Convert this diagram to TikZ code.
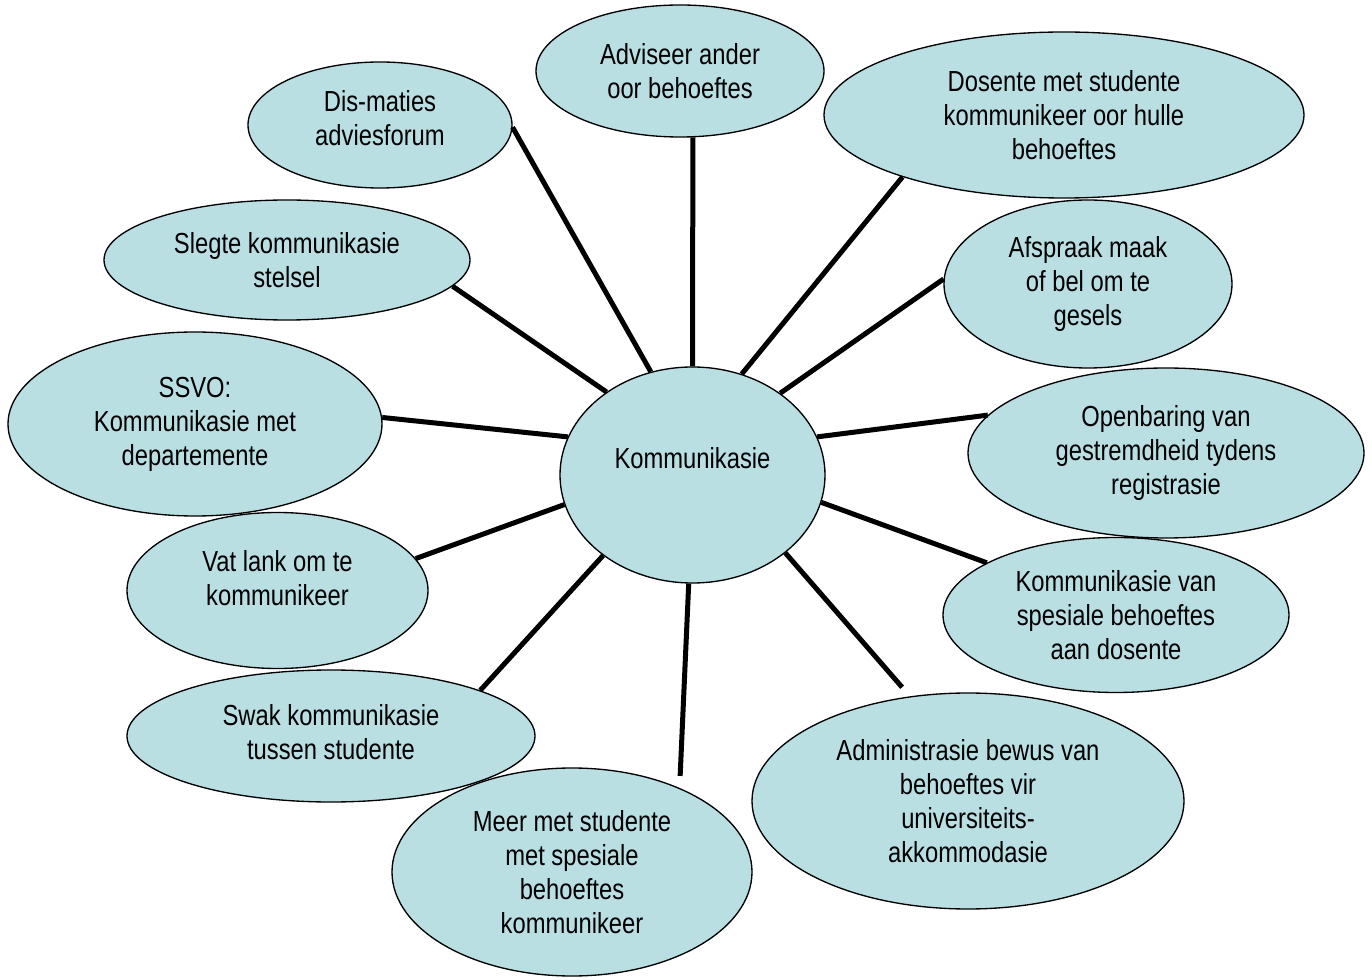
\documentclass[tikz,border=0pt]{standalone}
\usepackage{fontspec}
\setmainfont{Liberation Sans}[FakeStretch=0.82]
\usetikzlibrary{shapes.geometric}

\definecolor{bubblefill}{RGB}{185,223,227}

\tikzset{
    bubble/.style={ellipse, draw=black, line width=1pt, fill=bubblefill,
        inner sep=0pt, align=center, font=\fontsize{21.75}{25.5}\selectfont},
    ell/.style 2 args={minimum width=#1*0.75pt, minimum height=#2*0.75pt},
    spoke/.style={line width=3.75pt}
}

\begin{document}
\begin{tikzpicture}[x=0.75pt, y=-0.75pt]
    \useasboundingbox (0,0) rectangle (1372,980);

    % outer ring, top to bottom
    \node (adv) [bubble, ell={288}{132}] at (680,71) {Adviseer ander\\oor behoeftes};
    \node (dis) [bubble, ell={264}{126}, text depth=10.5pt] at (380,125) {Dis-maties\\adviesforum};
    \node (dos) [bubble, ell={480}{166}] at (1064,115) {Dosente met studente\\kommunikeer oor hulle\\behoeftes};
    \node (sle) [bubble, ell={366}{120}] at (287,260) {Slegte kommunikasie\\stelsel};
    \node (afs) [bubble, ell={288}{168}] at (1088,284) {Afspraak maak\\of bel om te\\gesels};
    \node (ssvo) [bubble, ell={374}{184}] at (195,424) {SSVO:\\Kommunikasie met\\departemente};

    % the hub
    \node (kom) [bubble, ell={265}{216}, text depth=26pt] at (692.5,475) {Kommunikasie};

    \node (opb) [bubble, ell={396}{170}] at (1166,453) {Openbaring van\\gestremdheid tydens\\registrasie};
    \node (vat) [bubble, ell={301}{156}, text depth=19.5pt] at (277.5,590.5) {Vat lank om te\\kommunikeer};
    \node (kvs) [bubble, ell={346}{155}] at (1116,615) {Kommunikasie van\\spesiale behoeftes\\aan dosente};
    \node (swk) [bubble, ell={408}{132}, text depth=6pt] at (331,736) {Swak kommunikasie\\tussen studente};
    \node (adm) [bubble, ell={432}{216}] at (968,801) {Administrasie bewus van\\behoeftes vir\\universiteits-\\akkommodasie};
    \node (mer) [bubble, ell={360}{208}] at (572,872) {Meer met studente\\met spesiale\\behoeftes\\kommunikeer};

    % spokes
    \draw[spoke] (kom.112.4) -- (dis.-1);
    \draw[spoke] (kom.90) -- (adv.-79.5);
    \draw[spoke] (kom.64.1) -- (dos.-159.4);
    \draw[spoke] (kom.136.2) -- (sle.-9.6);
    \draw[spoke] (kom.43.8) -- (afs.178.4);
    \draw[spoke] (kom.163.6) -- (ssvo.2.4);
    \draw[spoke] (kom.17) -- (opb.168.3);
    \draw[spoke] (kom.-167.8) -- (vat.13.1);
    \draw[spoke] (kom.-12.4) -- (kvs.158.3);
    \draw[spoke] (kom.-138.5) -- (swk.17.1);
    \draw[spoke, shorten >=9pt] (kom.-92.4) -- (mer.38.8);
    \draw[spoke, shorten >=9pt] (kom.-40.8) -- (adm.119.1);
\end{tikzpicture}
\end{document}
